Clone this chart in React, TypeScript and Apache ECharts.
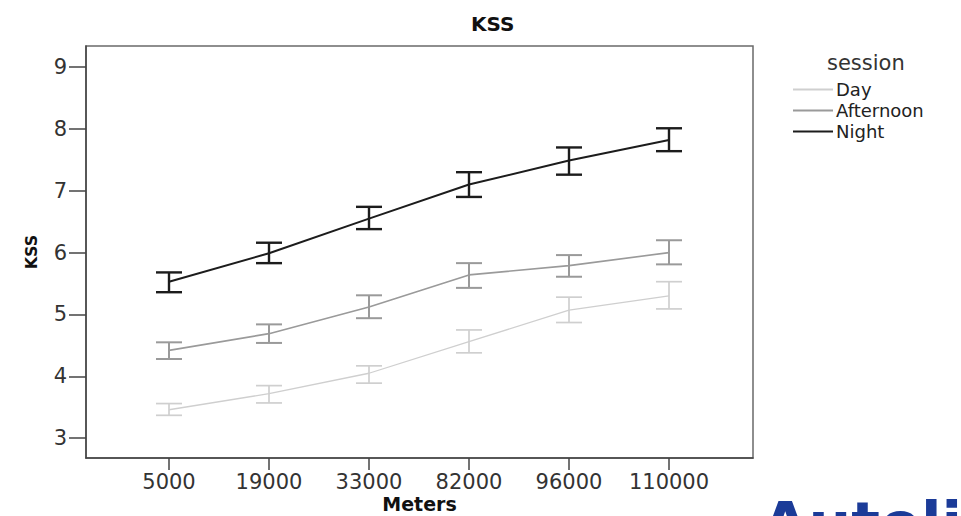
import React, { useEffect, useRef } from "react";
import * as echarts from "echarts";

const categories = ["5000", "19000", "33000", "82000", "96000", "110000"];
const sessions = ["Day", "Afternoon", "Night"];

const dayMean = [3.46, 3.72, 4.05, 4.56, 5.07, 5.30];
const dayLow = [3.37, 3.57, 3.89, 4.38, 4.87, 5.09];
const dayHigh = [3.56, 3.85, 4.17, 4.75, 5.28, 5.53];

const aftMean = [4.42, 4.69, 5.12, 5.64, 5.79, 6.00];
const aftLow = [4.28, 4.54, 4.94, 5.43, 5.61, 5.81];
const aftHigh = [4.55, 4.84, 5.31, 5.83, 5.96, 6.20];

const nightMean = [5.53, 5.99, 6.55, 7.10, 7.49, 7.82];
const nightLow = [5.36, 5.83, 6.38, 6.90, 7.26, 7.64];
const nightHigh = [5.68, 6.16, 6.74, 7.30, 7.70, 8.01];

const yTicks = [3, 4, 5, 6, 7, 8, 9];

const FONT = "DejaVu Sans";

export default function App() {
  const ref = useRef<HTMLDivElement>(null);
  useEffect(() => {
    document.body.style.margin = "0";
    const chart = echarts.init(ref.current!, null, { renderer: "svg" });
    const colors = ["#cfcfcf", "#9a9a9a", "#1c1c1c"];
    const widths = [1.3, 1.6, 2];
    const means = [dayMean, aftMean, nightMean];
    const lows = [dayLow, aftLow, nightLow];
    const highs = [dayHigh, aftHigh, nightHigh];
    const xIdx = categories.map((_, i) => i);

    const lineSeries = sessions.map((name, s) => ({
      name,
      type: "line",
      data: xIdx.map((i) => [i, means[s][i]]),
      symbol: "none",
      lineStyle: { color: colors[s], width: widths[s] },
      itemStyle: { color: colors[s] },
      z: 3 + s,
    }));

    const errSeries = sessions.map((name, s) => ({
      name: name + " error",
      type: "custom",
      data: xIdx.map((i) => [i, lows[s][i], highs[s][i]]),
      renderItem: (params: any, api: any) => {
        const x = api.value(0);
        const lo = api.coord([x, api.value(1)]);
        const hi = api.coord([x, api.value(2)]);
        const hw = 13;
        const style = { stroke: colors[s], lineWidth: widths[s] + 0.4 };
        return {
          type: "group",
          children: [
            { type: "line", shape: { x1: hi[0], y1: hi[1], x2: lo[0], y2: lo[1] }, style },
            { type: "line", shape: { x1: hi[0] - hw, y1: hi[1], x2: hi[0] + hw, y2: hi[1] }, style },
            { type: "line", shape: { x1: lo[0] - hw, y1: lo[1], x2: lo[0] + hw, y2: lo[1] }, style },
          ],
        };
      },
      encode: { x: 0, y: [1, 2] },
      z: 3 + s,
      silent: true,
    }));

    chart.setOption({
      animation: false,
      backgroundColor: "#ffffff",
      title: {
        text: "KSS",
        left: 466,
        top: 9,
        textStyle: { fontFamily: FONT, fontSize: 20, fontWeight: "bold", color: "#111" },
      },
      grid: {
        left: 86,
        top: 46,
        right: 208,
        bottom: 58,
        outerBoundsMode: "none",
        containLabel: false,
        show: true,
        borderColor: "#6a6a6a",
        borderWidth: 1.5,
        backgroundColor: "transparent",
      },
      legend: {
        data: sessions,
        orient: "vertical",
        left: 793,
        top: 80,
        padding: 0,
        itemWidth: 40,
        itemHeight: 2,
        itemGap: 2,
        icon: "rect",
        textStyle: { fontFamily: FONT, fontSize: 18, color: "#222", lineHeight: 19, padding: [0, 0, 0, -2] },
      },
      xAxis: {
        type: "value",
        min: -0.83,
        max: 5.84,
        name: "Meters",
        nameLocation: "middle",
        nameGap: 36,
        nameMoveOverlap: false,
        nameTextStyle: { fontFamily: FONT, fontSize: 19, fontWeight: "bold", color: "#111" },
        axisLine: { show: true, onZero: false, lineStyle: { color: "#444", width: 1.5 } },
        axisTick: { show: true, customValues: xIdx, length: 12, lineStyle: { color: "#444", width: 1.5 } },
        axisLabel: {
          customValues: xIdx,
          formatter: (v: number) => categories[Math.round(v)] ?? "",
          fontFamily: FONT,
          fontSize: 21,
          color: "#333",
          margin: 13,
        },
        splitLine: { show: false },
      },
      yAxis: {
        type: "value",
        min: 2.68,
        max: 9.34,
        name: "KSS",
        nameLocation: "middle",
        nameGap: 47,
        nameMoveOverlap: false,
        nameRotate: 90,
        nameTextStyle: { fontFamily: FONT, fontSize: 16, fontWeight: "bold", color: "#111" },
        axisLine: { show: true, onZero: false, lineStyle: { color: "#444", width: 1.5 } },
        axisTick: { show: true, customValues: yTicks, length: 17, lineStyle: { color: "#444", width: 1.5 } },
        axisLabel: {
          customValues: yTicks,
          fontFamily: FONT,
          fontSize: 21,
          color: "#333",
          margin: 19,
        },
        splitLine: { show: false },
      },
      graphic: [
        {
          type: "text",
          left: 827,
          top: 52,
          style: { text: "session", fontFamily: FONT, fontSize: 21, fill: "#333" },
        },
        {
          type: "text",
          x: 762,
          y: 524,
          style: {
            text: "Autoliv",
            fontFamily: FONT,
            fontSize: 60,
            fontWeight: "bold",
            fill: "#1b3b98",
            verticalAlign: "middle",
            align: "left",
          },
        },
      ],
      series: [...lineSeries, ...errSeries],
    });
    return () => chart.dispose();
  }, []);
  return <div ref={ref} style={{ width: 961, height: 516 }} />;
}
